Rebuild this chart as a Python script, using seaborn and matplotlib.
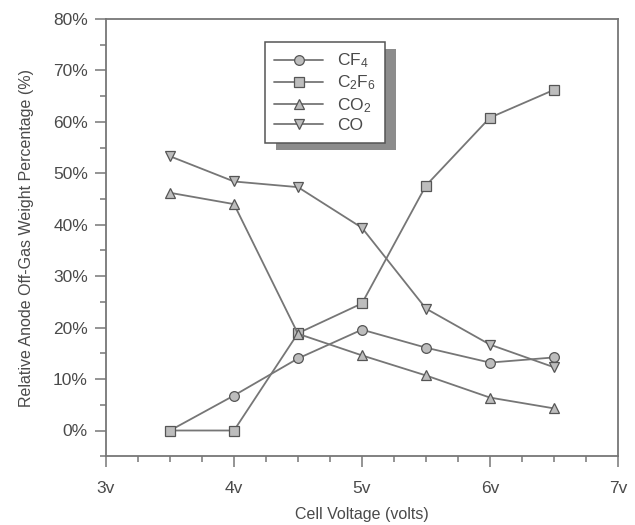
import matplotlib
matplotlib.use("Agg")
import matplotlib.pyplot as plt
import seaborn as sns
import pandas as pd
from matplotlib.ticker import MultipleLocator, FuncFormatter
from matplotlib.patches import Rectangle

voltage = [3.5, 4.0, 4.5, 5.0, 5.5, 6.0, 6.5]
cf4 = [0.0, 6.8, 14.0, 19.6, 16.1, 13.2, 14.2]
c2f6 = [0.0, 0.0, 18.9, 24.7, 47.6, 60.8, 66.2]
co2 = [46.2, 44.0, 18.8, 14.6, 10.7, 6.4, 4.3]
co = [53.3, 48.4, 47.3, 39.4, 23.7, 16.7, 12.3]
series_names = ["CF$_4$", "C$_2$F$_6$", "CO$_2$", "CO"]
x_ticks = [3, 4, 5, 6, 7]
y_ticks = [0, 10, 20, 30, 40, 50, 60, 70, 80]

frames = []
for name, vals in zip(series_names, [cf4, c2f6, co2, co]):
    frames.append(pd.DataFrame({"Voltage": voltage, "Pct": vals, "Gas": name}))
df = pd.concat(frames, ignore_index=True)

sns.set_style("white")
plt.rcParams["font.family"] = ["Liberation Sans", "DejaVu Sans"]
plt.rcParams["mathtext.default"] = "regular"

text_col = "#4a4a4a"
line_col = "#767676"

fig = plt.figure(figsize=(6.35, 5.25), dpi=100)
ax = fig.add_axes([0.167, 0.131, 0.806, 0.833])

markers = {series_names[0]: "o", series_names[1]: "s", series_names[2]: "^", series_names[3]: "v"}
palette = {n: line_col for n in series_names}
sns.lineplot(data=df, x="Voltage", y="Pct", hue="Gas", style="Gas",
             markers=markers, dashes=False, palette=palette, ax=ax,
             linewidth=1.3, markersize=7, markerfacecolor="#bdbdbd",
             markeredgecolor="#555555", markeredgewidth=0.9, legend=True)

ax.set_xlim(3, 7)
ax.set_ylim(-5, 80)
ax.set_xticks(x_ticks)
ax.set_yticks(y_ticks)
ax.xaxis.set_minor_locator(MultipleLocator(0.25))
ax.yaxis.set_minor_locator(MultipleLocator(5))
ax.xaxis.set_major_formatter(FuncFormatter(lambda v, p: f"{int(v)}v"))
ax.yaxis.set_major_formatter(FuncFormatter(lambda v, p: f"{int(v)}%"))
ax.tick_params(axis="both", which="both", bottom=True, left=True, top=False, right=False)
ax.tick_params(axis="both", which="major", direction="out", length=8, width=1.1,
               color=line_col, labelcolor=text_col, labelsize=12.5)
ax.tick_params(axis="both", which="minor", direction="out", length=4, width=1.1,
               color=line_col)
ax.tick_params(axis="x", which="major", pad=10)
ax.tick_params(axis="y", which="major", pad=5)
for s in ax.spines.values():
    s.set_color(line_col)
    s.set_linewidth(1.3)

ax.set_xlabel("Cell Voltage (volts)", fontsize=11.5, color=text_col, labelpad=8)
ax.set_ylabel("Relative Anode Off-Gas Weight Percentage (%)", fontsize=11.5,
              color=text_col, labelpad=14)

handles, labels = ax.get_legend_handles_labels()
leg = ax.legend(handles, labels, loc="upper left", bbox_to_anchor=(0.31, 0.947),
                frameon=True, shadow=False, fancybox=False, framealpha=1.0,
                fontsize=12.5, handlelength=2.8, handletextpad=0.8,
                labelspacing=0.2, borderpad=0.55, borderaxespad=0.0,
                labelcolor=text_col)
leg.get_frame().set_edgecolor("#555555")
leg.get_frame().set_linewidth(1.1)
leg.get_frame().set_facecolor("white")
leg.set_zorder(6)

fig.canvas.draw()
bb = leg.get_window_extent().transformed(ax.transAxes.inverted())
dx = 11 / (ax.bbox.width)
dy = 7 / (ax.bbox.height)
shadow = Rectangle((bb.x0 + dx, bb.y0 - dy), bb.width, bb.height,
                   transform=ax.transAxes, facecolor="#8c8c8c", edgecolor="none",
                   zorder=5.5)
ax.add_patch(shadow)

fig.savefig("out.png", dpi=100)
